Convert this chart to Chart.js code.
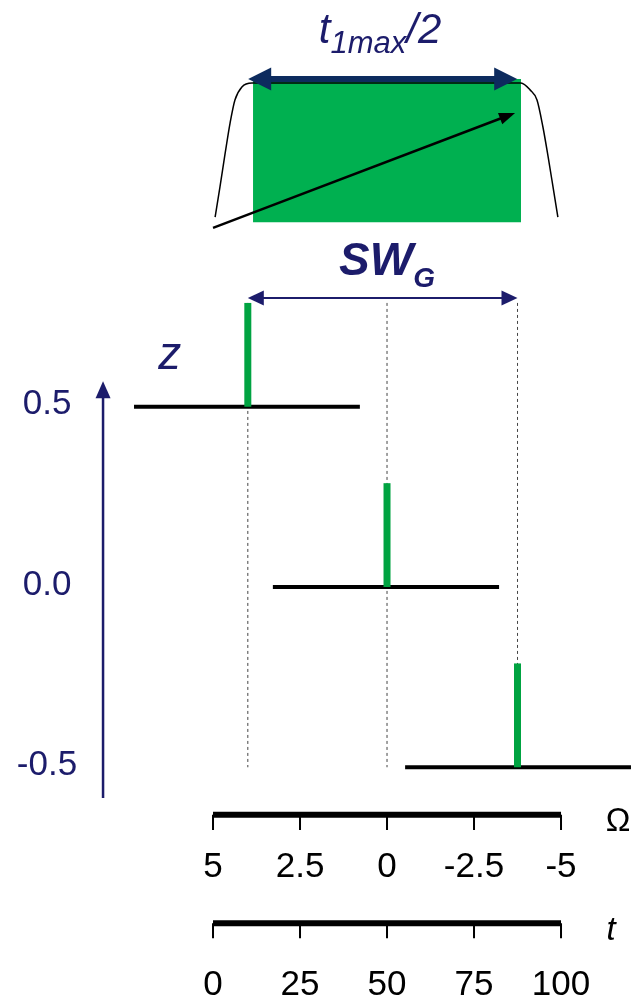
<!DOCTYPE html>
<html>
<head>
<meta charset="utf-8">
<script src="https://cdn.jsdelivr.net/npm/chart.js@4.4.1/dist/chart.umd.min.js"></script>
<style>
  html, body { margin: 0; padding: 0; background: #fff; }
  #wrap { width: 631px; height: 1000px; }
</style>
</head>
<body>
<div id="wrap"><canvas id="chart" width="631" height="1000"></canvas></div>
<script>
// axes: frequency offset (Omega), time, slice position z
const omegaTicks = [5, 2.5, 0, -2.5, -5];
const omegaTickLabels = ['5', '2.5', '0', '-2.5', '-5'];
const timeTicks = [0, 25, 50, 75, 100];
const timeTickLabels = ['0', '25', '50', '75', '100'];
const zTicks = [0.5, 0.0, -0.5];
const zTickLabels = ['0.5', '0.0', '-0.5'];

// one slice per z position: where its peak sits and how wide its spectrum is
const sliceZ = [0.5, 0, -0.5];
const peakOmega = [4.0, 0.0, -3.75];
const peakHeight = [0.288, 0.288, 0.288];
const spectrumFrom = [7.27, 3.28, -0.52];
const spectrumTo = [0.78, -3.22, -7.01];

// chirped pulse envelope (time domain)
const pulseT = [0.6, 2.0, 3.5, 4.9, 6.3, 8.3, 11.2, 88.5, 91.1, 93.1, 94.8, 96.3, 97.7, 99.1];
const pulseAmp = [1.026, 1.110, 1.204, 1.287, 1.351, 1.387, 1.398, 1.398, 1.379, 1.351, 1.276, 1.193, 1.110, 1.026];
const flatT = [11.5, 88.5];
const flatTop = 1.409;
const flatBottom = 1.012;
// sweep arrow through the pulse
const sweepT = [0, 86.8];
const sweepAmp = [0.996, 1.315];

const NAVY = '#1c1c6b';
const GREEN = '#00b050';
const STICK = '#00a341';
const FONT = '"Liberation Sans", Arial, sans-serif';

const datasets = [];
function add(ds) {
  // later datasets are painted on top
  datasets.push(Object.assign({
    borderColor: '#000', borderWidth: 1, pointRadius: 0, fill: false,
    tension: 0, order: -datasets.length
  }, ds));
}
const pts = (xs, ys) => xs.map((x, i) => ({ x: x, y: ys[i] }));

// top: pulse plateau, envelope and sweep
add({ xAxisID: 'xt', data: pts(flatT, [flatTop, flatTop]), borderWidth: 0,
      backgroundColor: GREEN, fill: { value: flatBottom } });
add({ xAxisID: 'xt', data: pts(pulseT, pulseAmp), borderWidth: 1.5,
      cubicInterpolationMode: 'monotone' });
add({ xAxisID: 'xt', data: pts(sweepT, sweepAmp), showLine: false,
      arrow: { color: '#000', width: 2.5, len: 16, half: 6, start: false, end: true } });
add({ xAxisID: 'xt', data: pts([10.1, 87.4], [flatTop, flatTop]), showLine: false,
      arrow: { color: '#0d2b5e', width: 6, len: 23, half: 11.5, start: true, end: true } });

// dotted guides below each peak
peakOmega.forEach((w) => {
  add({ data: pts([w, w], [0.788, -0.5]), borderColor: '#444', borderDash: [3, 3] });
});

// slice spectra
sliceZ.forEach((z, i) => {
  add({ data: pts([spectrumFrom[i], spectrumTo[i]], [z, z]), borderWidth: 4 });
  add({ data: pts([peakOmega[i], peakOmega[i]], [z, z + peakHeight[i]]),
        borderColor: STICK, borderWidth: 7 });
});

// SW_G span
add({ data: pts([peakOmega[0], peakOmega[2]], [0.802, 0.802]), showLine: false,
      arrow: { color: NAVY, width: 2, len: 16, half: 7.5, start: true, end: true } });
// z axis
add({ data: pts([8.16, 8.16], [-0.585, 0.571]), showLine: false,
      arrow: { color: NAVY, width: 2.5, len: 17, half: 7.5, start: false, end: true } });

// bottom scales
add({ data: pts([omegaTicks[0], omegaTicks[omegaTicks.length - 1]], [-0.632, -0.632]), borderWidth: 6 });
omegaTicks.forEach((w) => add({ data: pts([w, w], [-0.632, -0.674]), borderWidth: 2 }));
add({ xAxisID: 'xt', data: pts([timeTicks[0], timeTicks[timeTicks.length - 1]], [-0.933, -0.933]), borderWidth: 6 });
timeTicks.forEach((t) => add({ xAxisID: 'xt', data: pts([t, t], [-0.933, -0.974]), borderWidth: 2 }));

const arrowPlugin = {
  id: 'arrows',
  afterDatasetsDraw(chart) {
    const ctx = chart.ctx;
    chart.data.datasets.forEach((ds, i) => {
      const a = ds.arrow;
      if (!a) return;
      const el = chart.getDatasetMeta(i).data;
      const p0 = el[0], p1 = el[el.length - 1];
      const ang = Math.atan2(p1.y - p0.y, p1.x - p0.x);
      const c = Math.cos(ang), s = Math.sin(ang);
      const cut0 = a.start ? a.len * 0.8 : 0;
      const cut1 = a.end ? a.len * 0.8 : 0;
      ctx.save();
      ctx.strokeStyle = a.color;
      ctx.fillStyle = a.color;
      ctx.lineWidth = a.width;
      ctx.beginPath();
      ctx.moveTo(p0.x + c * cut0, p0.y + s * cut0);
      ctx.lineTo(p1.x - c * cut1, p1.y - s * cut1);
      ctx.stroke();
      const head = (tip, dir) => {
        const dc = Math.cos(dir), dsn = Math.sin(dir);
        const bx = tip.x - dc * a.len, by = tip.y - dsn * a.len;
        ctx.beginPath();
        ctx.moveTo(tip.x, tip.y);
        ctx.lineTo(bx - dsn * a.half, by + dc * a.half);
        ctx.lineTo(bx + dsn * a.half, by - dc * a.half);
        ctx.closePath();
        ctx.fill();
      };
      if (a.end) head(p1, ang);
      if (a.start) head(p0, ang + Math.PI);
      ctx.restore();
    });
  }
};

function drawRich(ctx, parts, x, y) {
  let total = 0;
  parts.forEach((p) => { ctx.font = p[1]; total += ctx.measureText(p[0]).width; });
  let cx = x - total / 2;
  parts.forEach((p) => {
    ctx.font = p[1];
    ctx.fillText(p[0], cx, y + (p[2] || 0));
    cx += ctx.measureText(p[0]).width;
  });
}

const labelPlugin = {
  id: 'labels',
  afterDraw(chart) {
    const ctx = chart.ctx;
    const { x, xt, y } = chart.scales;
    ctx.save();
    ctx.textAlign = 'left';
    ctx.textBaseline = 'alphabetic';
    ctx.fillStyle = NAVY;
    drawRich(ctx, [['t', 'italic 42px ' + FONT], ['1max', 'italic 31px ' + FONT, 10],
                   ['/2', 'italic 42px ' + FONT]], xt.getPixelForValue(48), y.getPixelForValue(1.509));
    drawRich(ctx, [['SW', 'bold italic 46px ' + FONT], ['G', 'bold italic 28px ' + FONT, 12]],
             x.getPixelForValue(0), y.getPixelForValue(0.865));
    drawRich(ctx, [['z', 'italic 46px ' + FONT]], x.getPixelForValue(6.24), y.getPixelForValue(0.605));

    ctx.textAlign = 'center';
    ctx.textBaseline = 'middle';
    ctx.font = '35px ' + FONT;
    zTicks.forEach((z, i) => {
      ctx.fillText(zTickLabels[i], x.getPixelForValue(9.77), y.getPixelForValue(z) - 2);
    });
    ctx.fillStyle = '#000';
    ctx.font = '35px ' + FONT;
    omegaTicks.forEach((w, i) => {
      ctx.fillText(omegaTickLabels[i], x.getPixelForValue(w), y.getPixelForValue(-0.779));
    });
    timeTicks.forEach((t, i) => {
      ctx.fillText(timeTickLabels[i], xt.getPixelForValue(t), y.getPixelForValue(-1.104));
    });
    ctx.font = '33px ' + FONT;
    ctx.fillText('\u03A9', x.getPixelForValue(-6.64), y.getPixelForValue(-0.652));
    ctx.font = 'italic 33px ' + FONT;
    ctx.fillText('t', xt.getPixelForValue(114.4), y.getPixelForValue(-0.954));
    ctx.restore();
  }
};

new Chart(document.getElementById('chart'), {
  type: 'line',
  data: { datasets: datasets },
  options: {
    responsive: false,
    animation: false,
    layout: { padding: 0 },
    plugins: { legend: { display: false }, tooltip: { enabled: false } },
    scales: {
      x: { type: 'linear', reverse: true, min: -7.011, max: 11.121, display: false },
      xt: { type: 'linear', axis: 'x', min: -61.21, max: 120.11, display: false },
      y: { type: 'linear', min: -1.1456, max: 1.6283, display: false }
    }
  },
  plugins: [arrowPlugin, labelPlugin]
});
</script>
</body>
</html>
